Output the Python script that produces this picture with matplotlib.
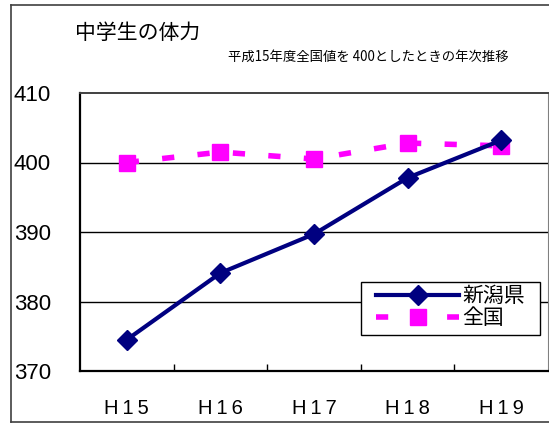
import matplotlib
matplotlib.use("Agg")
import matplotlib.pyplot as plt
from matplotlib.lines import Line2D
from matplotlib.patches import Rectangle

plt.rcParams['font.family'] = ['Noto Sans CJK JP', 'DejaVu Sans']

years = ["H\u20091\u20095", "H\u20091\u20096", "H\u20091\u20097", "H\u20091\u20098", "H\u20091\u20099"]
niigata = [374.5, 384.1, 389.7, 397.8, 403.2]
zenkoku = [400.0, 401.5, 400.5, 402.8, 402.4]
yticks = [370, 380, 390, 400, 410]

W, H = 549, 425
fig = plt.figure(figsize=(W / 100, H / 100), dpi=100)
ax = fig.add_axes([80 / W, 1 - 371 / H, 468 / W, 278 / H])

x = list(range(len(years)))
ax.plot(x, niigata, color="#000080", lw=3, marker="D", ms=10, label="新潟県", zorder=4)
ax.plot(x, zenkoku, color="#ff00ff", lw=4, ls=(0, (2.2, 4.2)), marker="s", ms=11,
        label="全国", zorder=3)

ax.set_xlim(-0.5, len(years) - 0.5)
ax.set_ylim(370, 410)
ax.set_yticks(yticks)
ax.set_yticklabels([str(v) for v in yticks], family="Liberation Sans", fontsize=16)
ax.tick_params(axis="y", length=0, pad=21)

ax.set_xticks([i + 0.5 for i in range(len(years) - 1)])
ax.set_xticklabels([])
ax.set_xticks(x, minor=True)
ax.set_xticklabels(years, minor=True, family=["Liberation Sans", "DejaVu Sans"],
                   fontsize=14.5)
ax.tick_params(axis="x", which="major", direction="in", length=5, width=1)
ax.tick_params(axis="x", which="minor", length=0, pad=20)

for v in [380, 390, 400]:
    ax.axhline(v, color="black", lw=1, zorder=1)

ax.spines["left"].set_linewidth(1.6)
ax.spines["bottom"].set_linewidth(1.6)
ax.spines["top"].set_color("#404040")
ax.spines["right"].set_color("#808080")
ax.spines["top"].set_linewidth(1.4)

# legend box drawn separately, entries placed inside it
ax.add_patch(Rectangle((361 / W, 1 - 335 / H), 179 / W, 53 / H, transform=fig.transFigure,
                       facecolor="white", edgecolor="black", lw=1, zorder=5, clip_on=False))
leg = ax.legend(loc="upper left", bbox_to_anchor=(376 / W, 1 - 285 / H),
                bbox_transform=fig.transFigure, borderaxespad=0, frameon=False,
                fontsize=15, handlelength=4.0, numpoints=1, borderpad=0,
                labelspacing=0.02, handletextpad=0.15)
leg.set_zorder(6)

fig.text(75 / W, 1 - 33 / H, "中学生の体力", fontsize=15, va="center", ha="left")
fig.text(228 / W, 1 - 57 / H, "平成15年度全国値を 400としたときの年次推移", fontsize=9.6,
         va="center", ha="left")

# outer frame of the chart
fig.add_artist(Line2D([11 / W, 11 / W], [1 - 5 / H, 1 - 422 / H], color="#404040", lw=1.2))
fig.add_artist(Line2D([11 / W, 1], [1 - 5 / H, 1 - 5 / H], color="#404040", lw=1.2))
fig.add_artist(Line2D([11 / W, 1], [1 - 422 / H, 1 - 422 / H], color="#404040", lw=1.2))

fig.savefig("out.png", dpi=100)
